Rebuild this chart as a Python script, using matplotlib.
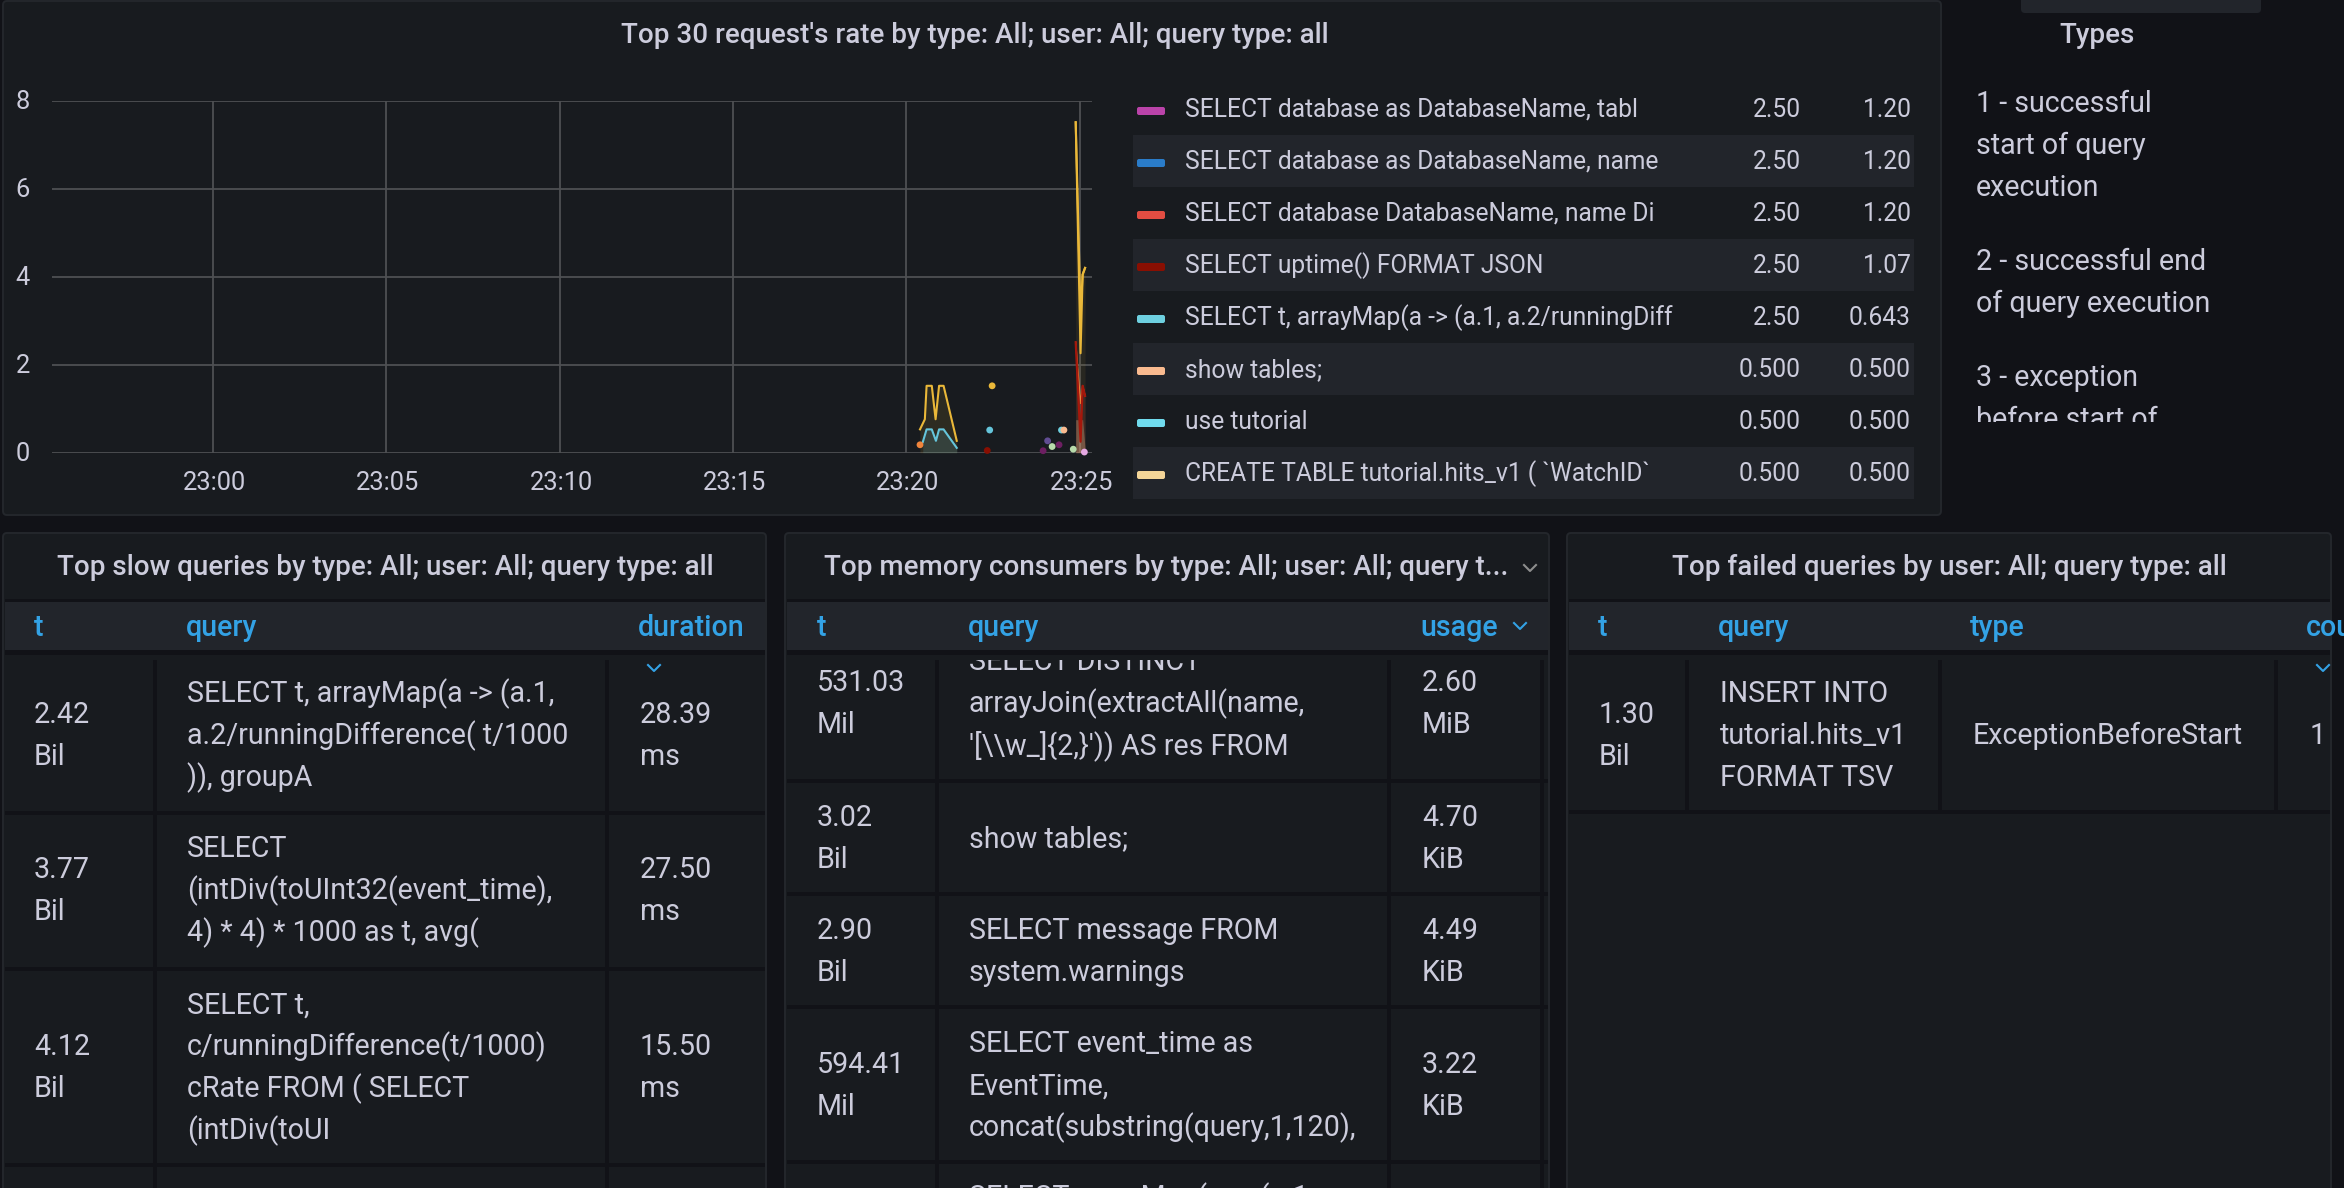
import matplotlib
matplotlib.use("Agg")
import matplotlib.pyplot as plt
from matplotlib.patches import Rectangle, FancyBboxPatch
from matplotlib.transforms import ScaledTranslation

plt.rcParams["font.family"] = ["Roboto", "DejaVu Sans"]

W, H = 2344, 1188
BG = "#111217"
PANEL = "#181b1f"
BORDER = "#24272c"
BAND = "#22252b"
TEXT = "#ccccdc"
LINK = "#33a2e5"
PX = 0.72  # points per pixel at dpi 100

# chart data, minutes after 23:00
tick_minutes = [0, 5, 10, 15, 20, 25]
tick_labels = ["23:00", "23:05", "23:10", "23:15", "23:20", "23:25"]
y_ticks = [0, 2, 4, 6, 8]

yellow_t = [20.39, 20.53, 20.58, 20.73, 20.84, 20.94, 21.07, 21.45]
yellow_v = [0.53, 0.76, 1.52, 1.52, 0.76, 1.52, 1.52, 0.27]
cyan_t = [20.47, 20.58, 20.73, 20.85, 20.94, 21.07, 21.45]
cyan_v = [0.24, 0.53, 0.53, 0.27, 0.53, 0.53, 0.11]

spike_t = [24.88, 25.02, 25.08, 25.15]
spike_yellow = [7.51, 2.26, 4.05, 4.2]
spike_yellow2 = [7.51, 3.17, 4.05, 4.2]
spike_red = [2.51, 0.25, 1.52, 1.29]
spike_red2 = [2.51, 1.12, 1.52, 1.29]
spike_low = [0.75, 0.75, 0.75, 0.1]

dot_t = [20.39, 22.47, 22.40, 22.33, 24.07, 23.94, 24.20, 24.40, 24.47, 24.54, 24.81, 25.13]
dot_v = [0.18, 1.52, 0.515, 0.05, 0.27, 0.045, 0.14, 0.18, 0.515, 0.515, 0.08, 0.015]
dot_colors = ["#ef843c", "#eab839", "#65c5db", "#890f02", "#614d93", "#6d1f62",
              "#b7dbab", "#6d1f62", "#6ed0e0", "#f9ba8f", "#b7dbab", "#e5a8e2"]

# legend
legend_names = ["SELECT database as DatabaseName, tabl", "SELECT database as DatabaseName, name",
                "SELECT database DatabaseName, name Di", "SELECT uptime() FORMAT JSON",
                "SELECT t, arrayMap(a -> (a.1, a.2/runningDiff", "show tables;", "use tutorial",
                "CREATE TABLE tutorial.hits_v1 ( `WatchID`"]
legend_max = ["2.50", "2.50", "2.50", "2.50", "2.50", "0.500", "0.500", "0.500"]
legend_avg = ["1.20", "1.20", "1.20", "1.07", "0.643", "0.500", "0.500", "0.500"]
legend_colors = ["#ba43a9", "#2a7cc9", "#e24d42", "#890f02", "#6ed0e0", "#f9ba8f", "#70dbed", "#f4d598"]

# tables
slow_t = [["2.42", "Bil"], ["3.77", "Bil"], ["4.12", "Bil"]]
slow_query = [["SELECT t, arrayMap(a -> (a.1,", "a.2/runningDifference( t/1000", ")), groupA"],
              ["SELECT", "(intDiv(toUInt32(event_time),", "4) * 4) * 1000 as t, avg("],
              ["SELECT t,", "c/runningDifference(t/1000)", "cRate FROM ( SELECT", "(intDiv(toUI"]]
slow_duration = [["28.39", "ms"], ["27.50", "ms"], ["15.50", "ms"]]

mem_t = [["531.03", "Mil"], ["3.02", "Bil"], ["2.90", "Bil"], ["594.41", "Mil"]]
mem_query = [["SELECT DISTINCT", "arrayJoin(extractAll(name,", "'[\\\\w_]{2,}')) AS res FROM"],
             ["show tables;"],
             ["SELECT message FROM", "system.warnings"],
             ["SELECT event_time as", "EventTime,", "concat(substring(query,1,120),"]]
mem_usage = [["2.60", "MiB"], ["4.70", "KiB"], ["4.49", "KiB"], ["3.22", "KiB"]]

failed_t = ["1.30", "Bil"]
failed_query = ["INSERT INTO", "tutorial.hits_v1", "FORMAT TSV"]
failed_type = "ExceptionBeforeStart"
failed_count = "1"

types_text = ["1 - successful", "start of query", "execution",
              "2 - successful end", "of query execution",
              "3 - exception", "before start of"]

fig = plt.figure(figsize=(W / 100, H / 100), dpi=100, facecolor=BG)
bg = fig.add_axes([0, 0, 1, 1])
bg.set_xlim(0, W)
bg.set_ylim(H, 0)
bg.axis("off")


def rect(x0, y0, x1, y1, color, z=1):
    bg.add_patch(Rectangle((x0, y0), x1 - x0, y1 - y0, facecolor=color, edgecolor="none", zorder=z))


def label(x, y, s, color=TEXT, ha="left", weight="normal", clip=None, size=28.6):
    # y is the middle of the capitals
    t = bg.text(x, y + size * 0.355, s, color=color, ha=ha, va="baseline", fontsize=size * PX,
                fontweight=weight, zorder=5)
    if clip is not None:
        t.set_clip_on(True)
        t.set_clip_path(Rectangle((clip[0], clip[1]), clip[2] - clip[0], clip[3] - clip[1], transform=bg.transData))
    return t


def title(x, y, s, ha="center"):
    return label(x, y, s, ha=ha, weight="medium", size=27.8)


def panel(x0, y0, x1, y1):
    bg.add_patch(FancyBboxPatch((x0, y0), x1 - x0, y1 - y0, boxstyle="round,pad=0,rounding_size=4",
                                facecolor=PANEL, edgecolor=BORDER, linewidth=1.4, zorder=1))


def chevron(x, y, color=LINK):
    bg.plot([x - 6, x, x + 6], [y - 3, y + 3, y - 3], color=color, lw=1.5, zorder=5)


def table_frame(x0, x1, seps, cols):
    rect(x0, 599, x1, 602, BG, 2)
    rect(x0, 602, x1, 650, BAND, 2)
    rect(x0, 650, x1, 655, BG, 2)
    for y in seps:
        rect(x0, y, x1, y + 4, BG, 2)
    for c, bottom in cols:
        rect(c, 660, c + 4, bottom, BG, 2)


def block(x, mid, lines, clip=None):
    top = mid - 42 * (len(lines) - 1) / 2
    for i, s in enumerate(lines):
        label(x, top + 42 * i, s, clip=clip)


# panels
panel(3, 1, 1941, 515)
panel(3, 533, 766, H + 20)
panel(785, 533, 1549, H + 20)
panel(1567, 533, 2331, H + 20)
bg.add_patch(FancyBboxPatch((2021, -10), 240, 23, boxstyle="round,pad=0,rounding_size=4",
                            facecolor=BAND, edgecolor="none", zorder=1))

# top chart
title(975, 33, "Top 30 request's rate by type: All; user: All; query type: all")
ax = fig.add_axes([52 / W, 1 - 452.7 / H, (1092 - 52) / W, 352 / H])
ax.patch.set_alpha(0)
ax.set_xlim(-4.64, 25.35)
ax.set_ylim(0, 8)
ax.set_xticks(tick_minutes, tick_labels)
ax.set_yticks(y_ticks)
ax.grid(True, color="#4e5053", lw=1.3)
ax.set_axisbelow(True)
ax.tick_params(length=0, labelsize=25.5 * PX, labelcolor=TEXT, pad=13)
ax.tick_params(axis="y", pad=16)
for s in ax.spines.values():
    s.set_visible(False)
for lbl in ax.get_yticklabels():
    lbl.set_transform(lbl.get_transform() + ScaledTranslation(0, 0.015, fig.dpi_scale_trans))
for lbl in ax.get_xticklabels():
    lbl.set_transform(lbl.get_transform() + ScaledTranslation(0.015, 0, fig.dpi_scale_trans))

ax.fill_between(yellow_t, yellow_v, color="#eab839", alpha=0.1, lw=0)
ax.fill_between(cyan_t, cyan_v, color="#65c5db", alpha=0.15, lw=0)
ax.plot(yellow_t, yellow_v, color="#eab839", lw=1.5)
ax.plot(cyan_t, cyan_v, color="#65c5db", lw=1.5)
ax.fill_between(spike_t, spike_yellow, color="#eab839", alpha=0.08, lw=0)
ax.fill_between(spike_t, spike_red, color="#e24d42", alpha=0.12, lw=0)
ax.fill_between(spike_t, spike_low, color="#f9ba8f", alpha=0.3, lw=0)
ax.plot(spike_t, spike_yellow2, color="#eab839", lw=1.5)
ax.plot(spike_t, spike_yellow, color="#eab839", lw=1.5)
ax.plot(spike_t, spike_red2, color="#ef843c", lw=1)
ax.plot(spike_t, spike_red, color="#a5170b", lw=1.6)
ax.scatter(dot_t, dot_v, s=24, c=dot_colors, linewidths=0, zorder=4, clip_on=False)

# legend rows
for i in range(len(legend_names)):
    mid = 109 + 52 * i
    if i % 2 == 1:
        rect(1133, mid - 26, 1914, mid + 26, BAND, 2)
    bg.add_patch(FancyBboxPatch((1137, mid - 2), 28, 8, boxstyle="round,pad=0,rounding_size=2",
                                facecolor=legend_colors[i], edgecolor="none", zorder=3))
    label(1185, mid - 1, legend_names[i], size=24.6)
    label(1801, mid - 1, legend_max[i], ha="right", size=24.6)
    label(1911, mid - 1, legend_avg[i], ha="right", size=24.6)

# types text
title(2097, 33, "Types")
types_y = [102, 144, 186, 260, 302, 376, 418]
for y, s in zip(types_y, types_text):
    label(1976, y, s, clip=(1960, 60, 2340, 422))

# slow queries
title(385, 565, "Top slow queries by type: All; user: All; query type: all")
table_frame(5, 765, [811, 967, 1163], [(153, H), (605, H)])
for x, s in zip([34, 186, 638], ["t", "query", "duration"]):
    label(x, 626, s, color=LINK, weight="medium")
chevron(654, 668)
slow_mid = [734, 889, 1066]
for i, mid in enumerate(slow_mid):
    block(34, mid, slow_t[i])
    block(187, mid, slow_query[i])
    block(640, mid, slow_duration[i])

# memory consumers
title(824, 565, "Top memory consumers by type: All; user: All; query t...", ha="left")
chevron(1530, 568, color="#8e8e8e")
table_frame(787, 1548, [779, 892, 1005, 1160], [(935, H), (1387, H), (1540, H)])
for x, s in zip([817, 968, 1420], ["t", "query", "usage"]):
    label(x, 626, s, color=LINK, weight="medium")
chevron(1520, 626)
cell_clip = (787, 660, 1548, H)
mem_mid = [702, 837, 950, 1084]
for i, mid in enumerate(mem_mid):
    block(817, mid, mem_t[i], clip=cell_clip)
    block(969, mid, mem_query[i], clip=cell_clip)
    block(1422, mid, mem_usage[i], clip=cell_clip)
label(969, 1196, "SELECT arrayMap(a -> (a.1,", clip=cell_clip)

# failed queries
title(1949, 565, "Top failed queries by user: All; query type: all")
table_frame(1569, 2330, [810], [(1685, 810), (1938, 810), (2274, 810)])
head_clip = (1569, 602, W, 650)
for x, s in zip([1598, 1718, 1970, 2306], ["t", "query", "type", "count"]):
    label(x, 626, s, color=LINK, weight="medium", clip=head_clip)
chevron(2323, 668)
block(1599, 734, failed_t)
block(1720, 734, failed_query)
label(1973, 734, failed_type)
label(2310, 734, failed_count)

fig.savefig("out.png", dpi=100, facecolor=BG)
